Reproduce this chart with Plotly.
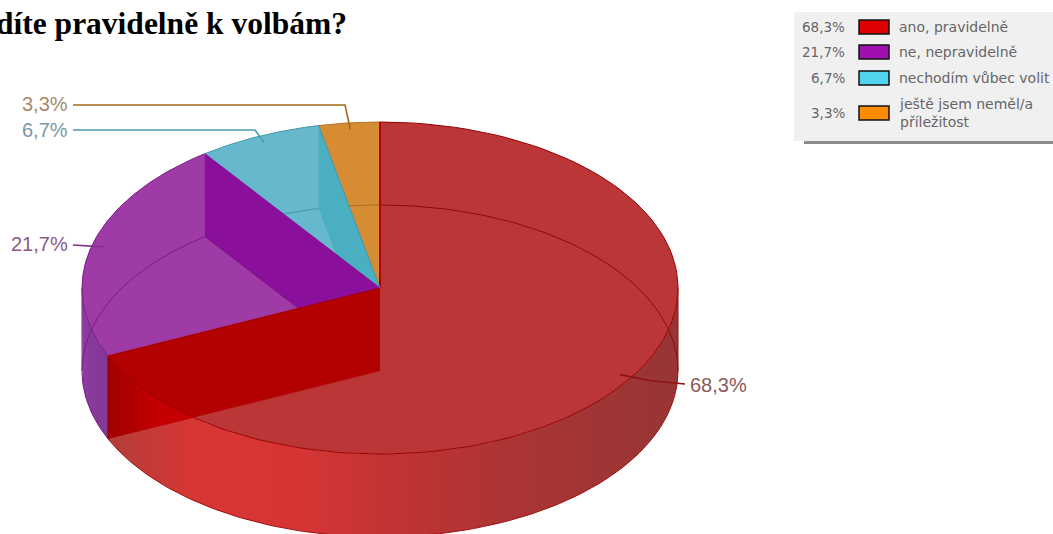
import numpy as np
import plotly.graph_objects as go

# Survey results
categories = ["ano, pravidelně", "ne, nepravidelně", "nechodím vůbec volit", "ještě jsem neměl/a<br>příležitost"]
shares = [68.3, 21.7, 6.7, 3.3]
title_text = "díte pravidelně k volbám?"

# Colours per slice: legend swatch, top face, inner wall, rim line, leader, label text
swatch_colors = ["#dd0000", "#a010b0", "#50d4ec", "#ff8c00"]
top_colors = ["#bb3636", "#9e3ba6", "#67b8cc", "#d68c33"]
wall_colors = ["#b30000", "#8a0f9a", "#4aafc0", "#c07010"]
rim_colors = ["#990000", "#7a1a88", "#3f98a8", "#b07020"]
leader_colors = ["#8a1515", "#85308f", "#4a9aa8", "#a86a1a"]
label_colors = ["#8a5a5a", "#8a5a8a", "#7a9aa5", "#a58a6a"]
legend_rows = [27, 52, 78, 113]

# Pie projection, in page pixels
CX, CY, RX, RY, DEPTH = 380, 288, 298, 166, 83


def px(a):
    return CX + RX * np.sin(a)


def py(a, drop=0.0):
    return CY - RY * np.cos(a) + drop


def poly(xs, ys, color, line=None, width=0):
    return go.Scatter(
        x=list(xs), y=list(ys), mode="lines", fill="toself", fillcolor=color,
        line=dict(color=line or color, width=width), hoverinfo="skip", showlegend=False,
    )


def shaded(xs, ys, stops):
    # Polygon with a left-to-right colour ramp; stops are (x, colour) pairs
    lo, hi = stops[0][0], stops[-1][0]
    scale = [[(x - lo) / (hi - lo), c] for x, c in stops]
    return go.Scatter(
        x=list(xs), y=list(ys), mode="lines", fill="toself",
        fillgradient=dict(type="horizontal", colorscale=scale, start=lo, stop=hi),
        line=dict(width=0), hoverinfo="skip", showlegend=False,
    )


def curve(xs, ys, color, width=1.0):
    return go.Scatter(
        x=list(xs), y=list(ys), mode="lines", line=dict(color=color, width=width),
        hoverinfo="skip", showlegend=False,
    )


edges = np.concatenate([[0], np.cumsum(shares)]) / sum(shares) * 2 * np.pi
mids = (edges[:-1] + edges[1:]) / 2

side_stops = [(108, "#b23e38"), (200, "#d93535"), (300, "#d63535"),
              (400, "#c03333"), (500, "#ad3434"), (600, "#a03535"), (678, "#983535")]
purple_stops = [(82, "#8c3ca0"), (108, "#823796")]
overlap_stops = [(108, "#a00000"), (160, "#c40000"), (200, "#c80000")]

fig = go.Figure()

# Top faces
for i in range(4):
    t = np.linspace(edges[i], edges[i + 1], 120)
    fig.add_trace(poly([CX, *px(t), CX], [CY, *py(t), CY], top_colors[i]))

# Outer side, with its shading running across the curve
t = np.linspace(np.pi / 2, edges[1], 200)
fig.add_trace(shaded([*px(t), *px(t[::-1])], [*py(t), *py(t[::-1], DEPTH)], side_stops))
t = np.linspace(edges[1], 1.5 * np.pi, 40)
fig.add_trace(shaded([*px(t), *px(t[::-1])], [*py(t), *py(t[::-1], DEPTH)], purple_stops))

# Far edge of the base, seen through the pie
t = np.linspace(0, np.pi / 2, 80)
fig.add_trace(curve(px(t), py(t, DEPTH), "rgba(130,0,0,0.8)"))
for i in (1, 2, 3):
    t = np.linspace(max(edges[i], 1.5 * np.pi), edges[i + 1], 80)
    fig.add_trace(curve(px(t), py(t, DEPTH), rim_colors[i]))

# Inner walls, back to front
for i in (2, 1, 0):
    a = edges[i + 1]
    fig.add_trace(poly([CX, px(a), px(a), CX, CX], [CY, py(a), py(a, DEPTH), CY + DEPTH, CY], wall_colors[i]))

# Purple wall edge showing faintly through the red wall
a = edges[2]
fig.add_trace(curve([px(a), CX], [py(a, DEPTH), CY + DEPTH], "rgba(90,0,60,0.2)"))

# Where the red wall passes behind the curved side
a0 = edges[1]
wall_x0, wall_y0 = px(a0), py(a0, DEPTH)
slope = (CY + DEPTH - wall_y0) / (CX - wall_x0)
angles = np.linspace(a0, a0 - 0.6, 400)
below = py(angles) < wall_y0 + slope * (px(angles) - wall_x0)
stop_angle = angles[np.argmax(~below)] if (~below).any() else angles[-1]
t = np.linspace(a0, stop_angle, 40)
fig.add_trace(shaded([*px(t), px(stop_angle), wall_x0], [*py(t), py(stop_angle), wall_y0], overlap_stops))

# Outlines
for i in range(4):
    t = np.linspace(edges[i], edges[i + 1], 120)
    fig.add_trace(curve(px(t), py(t), rim_colors[i]))

t = np.linspace(np.pi / 2, edges[1], 160)
fig.add_trace(curve(px(t), py(t, DEPTH), "#a01010"))
t = np.linspace(edges[1], 1.5 * np.pi, 40)
fig.add_trace(curve(px(t), py(t, DEPTH), rim_colors[1]))
fig.add_trace(curve([px(np.pi / 2)] * 2, [CY, CY + DEPTH], "#8a1010"))
fig.add_trace(curve([px(1.5 * np.pi)] * 2, [CY, CY + DEPTH], rim_colors[1]))
fig.add_trace(curve([CX, CX], [CY - RY, CY], "#b00000", 2))
fig.add_trace(curve([px(edges[1])] * 2, [py(edges[1]), py(edges[1], DEPTH)], "#8a0000"))
fig.add_trace(curve([CX, px(edges[1])], [CY, py(edges[1])], "#a00000"))
fig.add_trace(curve([CX, px(edges[2])], [CY, py(edges[2])], wall_colors[1]))
fig.add_trace(curve([CX, px(edges[3])], [CY, py(edges[3])], "#3f98a8"))

# Leader lines from each slice out to its percentage
label_fmt = [f"{s:.1f}%".replace(".", ",") for s in shares]
anchor = 0.96
ax = [CX + RX * anchor * np.sin(m) for m in mids]
ay = [CY - RY * anchor * np.cos(m) for m in mids]
fig.add_trace(curve([ax[0], ax[0] + 30, 685], [ay[0], ay[0] + 6, 384], leader_colors[0], 1.6))
fig.add_trace(curve([ax[1], 73], [ay[1], 245], leader_colors[1], 1.6))
fig.add_trace(curve([ax[2], 255, 73], [ay[2], 130, 130], leader_colors[2], 1.6))
fig.add_trace(curve([ax[3], 345, 73], [ay[3], 105, 105], leader_colors[3], 1.6))

annotations = []
label_pos = [(688, 385, "left"), (70, 244, "right"), (70, 130, "right"), (70, 104, "right")]
for (lx, ly, side), text, col in zip(label_pos, label_fmt, label_colors):
    annotations.append(dict(x=lx, y=ly, text=text, showarrow=False, xanchor=side, yanchor="middle",
                            font=dict(family="Liberation Sans", size=20, color=col)))

annotations.append(dict(x=349, y=23, text=f"<b>{title_text}</b>", showarrow=False, xanchor="right", yanchor="middle",
                        font=dict(family="Liberation Serif", size=31.5, color="#000000")))

# Legend panel
shapes = [
    dict(type="rect", x0=804, x1=1053, y0=140, y1=144, fillcolor="#8c8c8c", line_width=0, layer="below"),
    dict(type="rect", x0=794, x1=1053, y0=12, y1=141, fillcolor="#f0f0f0", line_width=0, layer="below"),
]
for row, text, pct, col in zip(legend_rows, categories, label_fmt, swatch_colors):
    shapes.append(dict(type="rect", x0=859, x1=889, y0=row - 7, y1=row + 7, fillcolor=col,
                       line=dict(color="#111111", width=1.5)))
    annotations.append(dict(x=847, y=row, text=pct, showarrow=False, xanchor="right", yanchor="middle",
                            font=dict(family="DejaVu Sans", size=13.5, color="#666666")))
    annotations.append(dict(x=897, y=row, text=text, showarrow=False, xanchor="left", yanchor="middle", align="left",
                            font=dict(family="DejaVu Sans", size=14, color="#666666")))

fig.update_layout(
    width=1053, height=534, margin=dict(l=0, r=0, t=0, b=0),
    paper_bgcolor="#ffffff", plot_bgcolor="#ffffff", showlegend=False,
    xaxis=dict(range=[0, 1053], visible=False, fixedrange=True),
    yaxis=dict(range=[534, 0], visible=False, fixedrange=True),
    annotations=annotations, shapes=shapes,
)
fig.write_html("out.html")
